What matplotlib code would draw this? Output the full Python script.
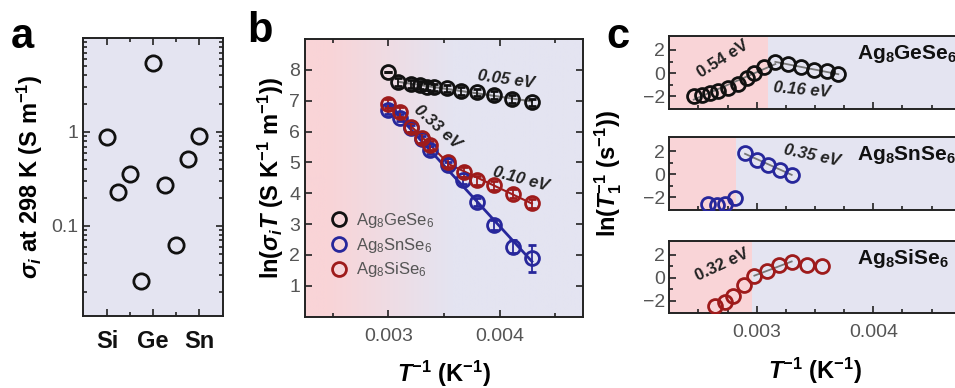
import numpy as np
import matplotlib.pyplot as plt
from matplotlib.ticker import FixedLocator, NullFormatter
from matplotlib.colors import to_rgb

plt.rcParams['font.family'] = ['Liberation Sans', 'DejaVu Sans']
plt.rcParams['mathtext.fontset'] = 'custom'
plt.rcParams['mathtext.rm'] = 'Liberation Sans'
plt.rcParams['mathtext.it'] = 'Liberation Sans:italic'
plt.rcParams['mathtext.bf'] = 'Liberation Sans:bold'
plt.rcParams['mathtext.bfit'] = 'Liberation Sans:italic:bold'

# ---- panel a: conductivity at 298 K vs composition
a_x = [0, 0.25, 0.5, 0.75, 1.0, 1.25, 1.5, 1.75, 2.0]
a_sigma = [0.89, 0.23, 0.36, 0.026, 5.4, 0.27, 0.062, 0.52, 0.9]
a_ticks = ['Si', 'Ge', 'Sn']

# ---- panel b: ln(sigma T) vs 1/T
ge_x = [0.00300, 0.00309, 0.00320, 0.00328, 0.00335, 0.00341, 0.00353, 0.00365, 0.00380, 0.00395, 0.00411, 0.00429]
ge_y = [7.92, 7.61, 7.54, 7.51, 7.46, 7.43, 7.40, 7.32, 7.27, 7.19, 7.05, 6.95]
ge_err = [0.0, 0.12, 0.12, 0.12, 0.12, 0.12, 0.12, 0.12, 0.12, 0.12, 0.12, 0.12]

sn_x = [0.00300, 0.00310, 0.00320, 0.00330, 0.00337, 0.00354, 0.00367, 0.00380, 0.00395, 0.00412, 0.00429]
sn_y = [6.70, 6.45, 6.10, 5.75, 5.40, 4.90, 4.42, 3.72, 2.97, 2.27, 1.89]
sn_err = [0.12, 0.12, 0.12, 0.12, 0.12, 0.12, 0.12, 0.12, 0.15, 0.2, 0.43]

si_x = [0.00300, 0.00310, 0.00320, 0.00330, 0.00337, 0.00354, 0.00368, 0.00380, 0.00395, 0.00412, 0.00429]
si_y = [6.90, 6.63, 6.14, 5.79, 5.55, 5.01, 4.69, 4.42, 4.26, 3.99, 3.67]
si_err = [0.15] * 11

# ---- panel c: ln(1/T1) vs 1/T
c_names = ['Ag$_{\\mathbf{8}}$GeSe$_{\\mathbf{6}}$', 'Ag$_{\\mathbf{8}}$SnSe$_{\\mathbf{6}}$',
           'Ag$_{\\mathbf{8}}$SiSe$_{\\mathbf{6}}$']
cge_x = [0.00246, 0.00253, 0.00260, 0.00267, 0.00275, 0.00284, 0.00292, 0.00298, 0.00306, 0.00316,
         0.00327, 0.00338, 0.00349, 0.00360, 0.00370]
cge_y = [-2.0, -1.85, -1.7, -1.5, -1.25, -0.9, -0.45, 0.0, 0.55, 1.0, 0.75, 0.5, 0.3, 0.15, -0.1]
csn_x = [0.00258, 0.00266, 0.00273, 0.00281, 0.00290, 0.00300, 0.00310, 0.00320, 0.00330]
csn_y = [-2.6, -2.65, -2.54, -2.03, 1.82, 1.26, 0.83, 0.40, -0.03]
csi_x = [0.00264, 0.00273, 0.00280, 0.00289, 0.00298, 0.00309, 0.00319, 0.00330, 0.00343, 0.00356]
csi_y = [-2.45, -2.1, -1.6, -0.65, 0.15, 0.6, 1.1, 1.35, 1.15, 1.0]
c_split = [0.00310, 0.00282, 0.00296]

BLACK = '#111111'
BLUE = '#27279b'
RED = '#9e1b1b'
PINK = '#f9d4d7'
LAV = '#e4e4f1'
GREY = '#555555'

fig = plt.figure(figsize=(9.55, 3.88), dpi=100)


def style(ax, right=True, top=True):
    for s in ax.spines.values():
        s.set_linewidth(1.4)
        s.set_color('#222222')
    ax.tick_params(which='both', direction='in', top=top, right=right,
                   labelsize=14, labelcolor=GREY, color='#222222', width=1.2)
    ax.tick_params(which='major', length=5)
    ax.tick_params(which='minor', length=3)


xlab = r'$\mathbfit{T}^{\mathbf{-1}}$ (K$^{\mathbf{-1}}$)'

# panel a
ax = fig.add_axes([0.0869, 0.1856, 0.1466, 0.7165])
ax.set_facecolor(LAV)
ax.plot(a_x, a_sigma, 'o', ms=11, mfc='none', mec=BLACK, mew=2)
ax.set_yscale('log')
ax.set_ylim(0.011, 10)
ax.set_xlim(-0.52, 2.52)
ax.set_xticks([0, 1, 2])
ax.set_xticklabels(a_ticks)
ax.xaxis.set_minor_locator(FixedLocator([0.5, 1.5]))
ax.set_yticks([0.01, 0.1, 1, 10])
ax.set_yticklabels(['', '0.1', '1', ''])
minor = [m * d for d in (0.01, 0.1, 1) for m in range(2, 10)]
ax.yaxis.set_minor_locator(FixedLocator(minor))
ax.yaxis.set_minor_formatter(NullFormatter())
ax.set_ylim(0.011, 10)
style(ax)
ax.tick_params(axis='x', labelsize=17, labelcolor=BLACK, pad=10)
for t in ax.get_xticklabels():
    t.set_fontweight('bold')
ax.set_ylabel(r'$\mathbfit{\sigma}_{\mathbfit{i}}$ at 298 K (S m$^{\mathbf{-1}}$)',
              fontsize=17, fontweight='bold', labelpad=4)
fig.text(0.023, 0.905, 'a', fontsize=30, fontweight='bold', ha='center', va='center')

# panel b
ax = fig.add_axes([0.3194, 0.1838, 0.2911, 0.7157])
t = np.linspace(0, 1, 300)
w = np.clip((t - 0.08) / 0.45, 0, 1)[:, None]
grad = (1 - w) * np.array(to_rgb(PINK)) + w * np.array(to_rgb(LAV))
ax.imshow(grad[None, :, :], extent=[0, 1, 0, 1], transform=ax.transAxes,
          aspect='auto', zorder=0)

# fit lines
p = np.polyfit(ge_x[1:], ge_y[1:], 1)
xx = np.array([ge_x[1], ge_x[-1]])
ax.plot(xx, np.polyval(p, xx), color='#777777', lw=1.5, zorder=2)
p = np.polyfit(sn_x, sn_y, 1)
xx = np.array([sn_x[0], sn_x[-1]])
ax.plot(xx, np.polyval(p, xx), color=BLUE, lw=2, zorder=2)
p = np.polyfit(si_x[:6], si_y[:6], 1)
xx = np.array([si_x[0], si_x[5]])
ax.plot(xx, np.polyval(p, xx), color=RED, lw=1.5, zorder=2)
p = np.polyfit(si_x[5:], si_y[5:], 1)
xx = np.array([si_x[5], si_x[-1]])
ax.plot(xx, np.polyval(p, xx), color=RED, lw=1.5, zorder=2)

for xs, ys, es, c, lab in [(ge_x, ge_y, ge_err, BLACK, 'Ag$_8$GeSe$_6$'),
                           (sn_x, sn_y, sn_err, BLUE, 'Ag$_8$SnSe$_6$'),
                           (si_x, si_y, si_err, RED, 'Ag$_8$SiSe$_6$')]:
    ax.errorbar(xs, ys, yerr=es, fmt='o', ms=10, mfc='none', mec=c, mew=2,
                ecolor=c, elinewidth=1.3, capsize=3, capthick=1.3, label=lab, zorder=3)

ax.set_xlim(0.00225, 0.00475)
ax.set_ylim(0.0, 9.0)
ax.set_xticks([0.003, 0.004])
ax.set_xticklabels(['0.003', '0.004'])
ax.xaxis.set_minor_locator(FixedLocator([0.0025, 0.0035, 0.0045]))
ax.set_yticks(range(1, 9))
style(ax)
ax.tick_params(axis='x', pad=8)
ax.set_xlabel(xlab, fontsize=17, fontweight='bold', labelpad=10)
ax.set_ylabel(r'ln($\mathbfit{\sigma}_{\mathbfit{i}}\mathbfit{T}$ (S K$^{\mathbf{-1}}$ m$^{\mathbf{-1}}$))',
              fontsize=17, fontweight='bold', labelpad=2)
h, l = ax.get_legend_handles_labels()
h = [hh[0] for hh in h]
leg = ax.legend(h, l, loc='lower left', bbox_to_anchor=(0.04, 0.08), frameon=False,
                fontsize=12, handletextpad=0.5, labelspacing=0.35, handlelength=1.0)
for tx in leg.get_texts():
    tx.set_color(GREY)
ax.text(0.00406, 7.68, '0.05 eV', fontsize=12, fontweight='bold', style='italic',
        rotation=-8, ha='center', va='center', color='#222222')
ax.text(0.00344, 6.15, '0.33 eV', fontsize=12, fontweight='bold', style='italic',
        rotation=-42, ha='center', va='center', color='#222222')
ax.text(0.00419, 4.47, '0.10 eV', fontsize=12, fontweight='bold', style='italic',
        rotation=-15, ha='center', va='center', color='#222222')
fig.text(0.272, 0.92, 'b', fontsize=30, fontweight='bold', ha='center', va='center')

# panel c
rects = [[0.7008, 0.7190, 0.3052, 0.1880],
         [0.7008, 0.4588, 0.3052, 0.1874],
         [0.7008, 0.1925, 0.3052, 0.1863]]
cdata = [(cge_x, cge_y, BLACK), (csn_x, csn_y, BLUE), (csi_x, csi_y, RED)]
caxes = []
for i, (r, (xs, ys, c)) in enumerate(zip(rects, cdata)):
    ax = fig.add_axes(r)
    ax.set_facecolor(LAV)
    ax.axvspan(0.002, c_split[i], color=PINK, lw=0, zorder=0)
    ax.plot(xs, ys, 'o', ms=10, mfc='none', mec=c, mew=2, zorder=3)
    ax.set_xlim(0.00225, 0.00475)
    ax.set_ylim(-3.1, 3.2)
    ax.set_yticks([-2, 0, 2])
    ax.yaxis.set_minor_locator(FixedLocator([-1, 1]))
    ax.set_xticks([0.003, 0.004])
    ax.xaxis.set_minor_locator(FixedLocator(np.arange(0.0025, 0.00475, 0.00025)))
    style(ax, right=False, top=False)
    ax.tick_params(axis='y', pad=3)
    if i < 2:
        ax.set_xticklabels([])
    else:
        ax.set_xticklabels(['0.003', '0.004'])
        ax.tick_params(axis='x', pad=8)
        ax.set_xlabel(xlab, fontsize=17, fontweight='bold', labelpad=10)
    ax.text(0.645, 0.76, c_names[i], transform=ax.transAxes, fontsize=15,
            fontweight='bold', ha='left', va='center', color=BLACK)
    caxes.append(ax)

# grey guide lines in c
ax = caxes[0]
p = np.polyfit(cge_x[:10], cge_y[:10], 1)
xx = np.array([cge_x[0], cge_x[9]])
ax.plot(xx, np.polyval(p, xx), color='#777777', lw=1.3, zorder=2)
p = np.polyfit(cge_x[9:], cge_y[9:], 1)
xx = np.array([cge_x[9], cge_x[-1]])
ax.plot(xx, np.polyval(p, xx), color='#777777', lw=1.3, zorder=2)
ax.text(0.00271, 1.25, '0.54 eV', fontsize=12, fontweight='bold', rotation=32,
        ha='center', va='center', color='#222222')
ax.text(0.00339, -1.45, '0.16 eV', fontsize=12, fontweight='bold', style='italic',
        rotation=-5, ha='center', va='center', color='#222222')

ax = caxes[1]
p = np.polyfit(csn_x[4:], csn_y[4:], 1)
xx = np.array([csn_x[4], csn_x[-1]])
ax.plot(xx, np.polyval(p, xx), color='#777777', lw=1.3, zorder=2)
ax.text(0.00347, 1.6, '0.35 eV', fontsize=12, fontweight='bold', style='italic',
        rotation=-12, ha='center', va='center', color='#222222')

ax = caxes[2]
p = np.polyfit(csi_x[4:8], csi_y[4:8], 1)
xx = np.array([csi_x[4], csi_x[7]])
ax.plot(xx, np.polyval(p, xx), color='#777777', lw=1.3, zorder=2)
ax.text(0.00270, 1.1, '0.32 eV', fontsize=12, fontweight='bold', rotation=25,
        ha='center', va='center', color='#222222')

caxes[1].set_ylabel(r'ln($\mathbfit{T}_{\mathbf{1}}^{\mathbf{-1}}$ (s$^{\mathbf{-1}}$))',
                    fontsize=17, fontweight='bold', labelpad=2)
caxes[1].yaxis.set_label_coords(-0.155, 0.5)
fig.text(0.647, 0.905, 'c', fontsize=30, fontweight='bold', ha='center', va='center')

fig.savefig('out.png', dpi=100)
